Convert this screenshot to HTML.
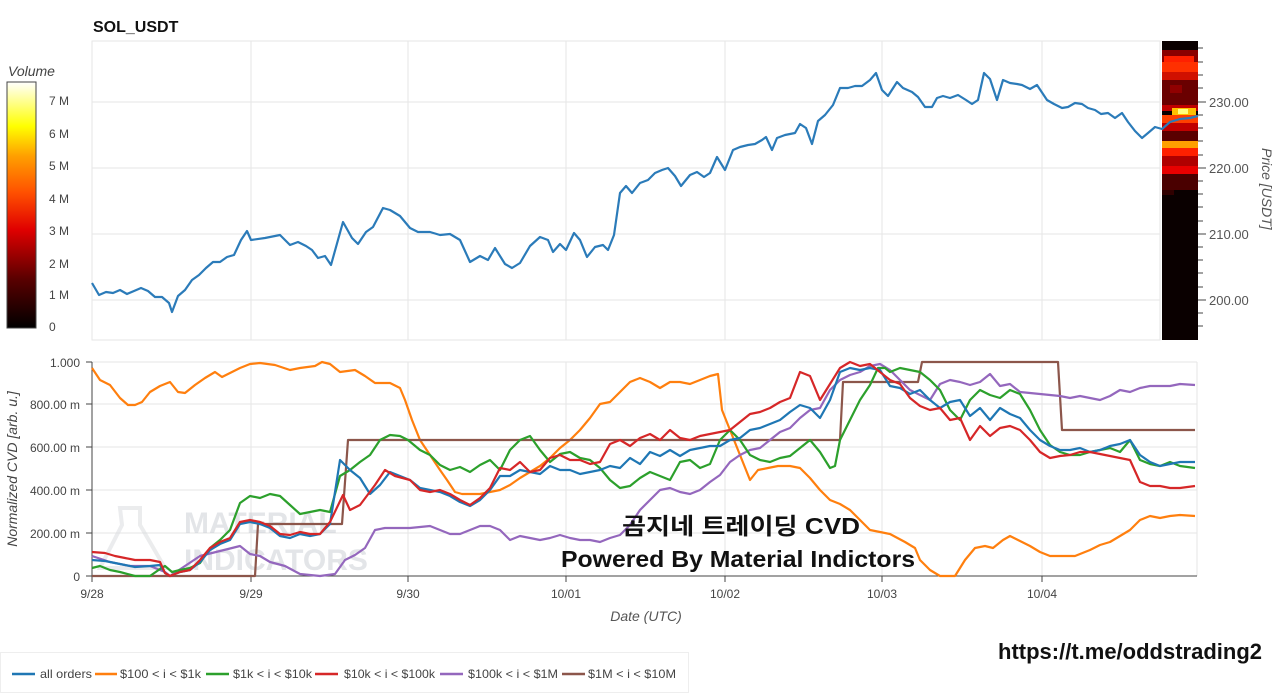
<!DOCTYPE html>
<html><head><meta charset="utf-8"><style>
html,body{margin:0;padding:0;background:#fff;}
svg text{font-family:"Liberation Sans","Noto Sans CJK KR",sans-serif;}
</style></head><body>
<svg width="1280" height="693" viewBox="0 0 1280 693" xmlns="http://www.w3.org/2000/svg">
<defs>
<linearGradient id="cb" x1="0" y1="1" x2="0" y2="0">
<stop offset="0" stop-color="#000"/>
<stop offset="0.2" stop-color="#5a0000"/>
<stop offset="0.4" stop-color="#e00000"/>
<stop offset="0.55" stop-color="#ff5000"/>
<stop offset="0.7" stop-color="#ffa000"/>
<stop offset="0.82" stop-color="#ffff00"/>
<stop offset="1" stop-color="#ffffff"/>
</linearGradient>
</defs>
<text x="93" y="32" font-size="16" font-weight="bold" fill="#111">SOL_USDT</text>
<text x="8" y="76" font-size="14" font-style="italic" fill="#444">Volume</text>
<rect x="7" y="82" width="29" height="246" fill="url(#cb)" stroke="#444" stroke-width="1"/>
<g font-size="12" fill="#444">
<text x="49" y="105">7 M</text><text x="49" y="138">6 M</text><text x="49" y="170">5 M</text>
<text x="49" y="203">4 M</text><text x="49" y="235">3 M</text><text x="49" y="268">2 M</text>
<text x="49" y="299">1 M</text><text x="49" y="331">0</text>
</g>
<rect x="92" y="41" width="1068" height="299" fill="none" stroke="#e6e6e6"/>
<g stroke="#e6e6e6" stroke-width="1">
<line x1="92" y1="102" x2="1160" y2="102"/><line x1="92" y1="168" x2="1160" y2="168"/>
<line x1="92" y1="234" x2="1160" y2="234"/><line x1="92" y1="300" x2="1160" y2="300"/>
<line x1="251" y1="41" x2="251" y2="340"/><line x1="408" y1="41" x2="408" y2="340"/>
<line x1="566" y1="41" x2="566" y2="340"/><line x1="725" y1="41" x2="725" y2="340"/>
<line x1="882" y1="41" x2="882" y2="340"/><line x1="1042" y1="41" x2="1042" y2="340"/>
</g>
<rect x="1162" y="41" width="36" height="299" fill="#0a0000"/>
<rect x="1162" y="50" width="36" height="12" fill="#8a0000"/>
<rect x="1164" y="56" width="30" height="8" fill="#ff2000"/>
<rect x="1162" y="62" width="36" height="10" fill="#ff3000"/>
<rect x="1162" y="72" width="36" height="8" fill="#d01000"/>
<rect x="1162" y="80" width="36" height="25" fill="#6a0000"/>
<rect x="1170" y="85" width="12" height="8" fill="#900000"/>
<rect x="1162" y="105" width="36" height="6" fill="#c00000"/>
<rect x="1172" y="108" width="24" height="8" fill="#ffc000"/>
<rect x="1178" y="109" width="10" height="5" fill="#ffff80"/>
<rect x="1162" y="115" width="36" height="8" fill="#ff4000"/>
<rect x="1162" y="123" width="36" height="8" fill="#c00000"/>
<rect x="1162" y="131" width="36" height="10" fill="#5a0000"/>
<rect x="1162" y="141" width="36" height="7" fill="#ffa000"/>
<rect x="1162" y="148" width="36" height="8" fill="#ff2000"/>
<rect x="1162" y="156" width="36" height="10" fill="#b00000"/>
<rect x="1162" y="166" width="36" height="8" fill="#e80000"/>
<rect x="1162" y="174" width="36" height="16" fill="#4a0000"/>
<rect x="1162" y="190" width="12" height="5" fill="#300000"/>
<g stroke="#444" stroke-width="1">
<line x1="1198" y1="48" x2="1203" y2="48"/><line x1="1198" y1="62" x2="1203" y2="62"/><line x1="1198" y1="75" x2="1203" y2="75"/><line x1="1198" y1="88" x2="1203" y2="88"/>
<line x1="1198" y1="102" x2="1206" y2="102"/><line x1="1198" y1="115" x2="1203" y2="115"/><line x1="1198" y1="128" x2="1203" y2="128"/><line x1="1198" y1="141" x2="1203" y2="141"/><line x1="1198" y1="155" x2="1203" y2="155"/>
<line x1="1198" y1="168" x2="1206" y2="168"/><line x1="1198" y1="181" x2="1203" y2="181"/><line x1="1198" y1="194" x2="1203" y2="194"/><line x1="1198" y1="207" x2="1203" y2="207"/><line x1="1198" y1="221" x2="1203" y2="221"/>
<line x1="1198" y1="234" x2="1206" y2="234"/><line x1="1198" y1="247" x2="1203" y2="247"/><line x1="1198" y1="260" x2="1203" y2="260"/><line x1="1198" y1="273" x2="1203" y2="273"/><line x1="1198" y1="287" x2="1203" y2="287"/>
<line x1="1198" y1="300" x2="1206" y2="300"/><line x1="1198" y1="313" x2="1203" y2="313"/><line x1="1198" y1="326" x2="1203" y2="326"/>
</g>
<g font-size="13" fill="#555">
<text x="1209" y="107">230.00</text><text x="1209" y="173">220.00</text>
<text x="1209" y="239">210.00</text><text x="1209" y="305">200.00</text>
</g>
<text transform="translate(1262,148) rotate(90)" font-size="14" font-style="italic" fill="#555">Price [USDT]</text>
<polyline fill="none" stroke="#2b7bb9" stroke-width="2.2" stroke-linejoin="round" points="92,283 99,295 106,292 113,293 120,290 127,294 134,291 141,288 148,291 155,297 162,297 169,303 172,312 178,296 185,290 192,280 199,275 206,268 213,262 220,262 227,257 234,255 241,240 247,231 251,240 265,238 280,235 290,245 298,242 306,246 312,250 318,258 325,256 331,265 343,222 352,238 358,244 366,232 373,227 383,208 390,210 400,216 410,228 418,232 430,232 440,235 450,234 460,240 470,262 480,256 488,260 495,248 505,264 512,268 520,263 530,246 540,237 548,240 553,252 560,244 566,250 574,233 580,240 587,257 595,247 603,245 608,250 614,235 620,193 626,186 632,193 640,183 648,180 655,173 662,170 668,168 675,176 681,186 690,175 697,172 704,177 710,173 717,157 725,170 733,150 740,147 748,145 755,144 762,140 766,137 772,150 777,138 785,135 795,133 800,124 806,128 812,144 818,121 825,115 833,105 840,88 848,88 855,86 862,86 870,80 876,73 882,90 888,96 897,82 903,88 912,92 918,97 925,107 932,107 937,98 943,96 950,98 958,95 966,100 972,104 978,100 984,73 990,79 997,100 1003,80 1010,83 1017,84 1022,85 1030,89 1037,85 1047,100 1054,104 1062,108 1068,107 1075,103 1082,104 1088,108 1095,110 1101,114 1108,113 1115,118 1122,113 1128,122 1135,131 1142,138 1148,133 1155,127 1162,129 1170,122 1180,119 1190,118 1198,116"/>
<g stroke="#e6e6e6" stroke-width="1">
<line x1="92" y1="362" x2="1197" y2="362"/><line x1="92" y1="404" x2="1197" y2="404"/><line x1="92" y1="447" x2="1197" y2="447"/><line x1="92" y1="490" x2="1197" y2="490"/><line x1="92" y1="533" x2="1197" y2="533"/>
<line x1="251" y1="362" x2="251" y2="576"/><line x1="408" y1="362" x2="408" y2="576"/><line x1="566" y1="362" x2="566" y2="576"/><line x1="725" y1="362" x2="725" y2="576"/><line x1="882" y1="362" x2="882" y2="576"/><line x1="1042" y1="362" x2="1042" y2="576"/><line x1="1197" y1="362" x2="1197" y2="576"/>
</g>
<g opacity="0.5">
<path d="M120,508 L140,508 L140,525 L165,568 L100,568 L122,525 Z" fill="none" stroke="#d8dadd" stroke-width="4"/>
<text x="184" y="533" font-size="30" font-weight="bold" fill="#c8ccd2">MATERIAL</text>
<text x="184" y="570" font-size="30" font-weight="bold" fill="#c8ccd2">INDICATORS</text>
</g>
<line x1="92" y1="362" x2="92" y2="576" stroke="#444"/>
<line x1="92" y1="576" x2="1197" y2="576" stroke="#444"/>
<g stroke="#444">
<line x1="86" y1="362" x2="92" y2="362"/><line x1="86" y1="404" x2="92" y2="404"/><line x1="86" y1="447" x2="92" y2="447"/><line x1="86" y1="490" x2="92" y2="490"/><line x1="86" y1="533" x2="92" y2="533"/><line x1="86" y1="576" x2="92" y2="576"/>
<line x1="92" y1="576" x2="92" y2="582"/><line x1="251" y1="576" x2="251" y2="582"/><line x1="408" y1="576" x2="408" y2="582"/><line x1="566" y1="576" x2="566" y2="582"/><line x1="725" y1="576" x2="725" y2="582"/><line x1="882" y1="576" x2="882" y2="582"/><line x1="1042" y1="576" x2="1042" y2="582"/>
</g>
<g font-size="12" fill="#444" text-anchor="end">
<text x="80" y="367">1.000</text><text x="80" y="409">800.00 m</text><text x="80" y="452">600.00 m</text><text x="80" y="495">400.00 m</text><text x="80" y="538">200.00 m</text><text x="80" y="581">0</text>
</g>
<g font-size="12" fill="#444" text-anchor="middle">
<text x="92" y="598">9/28</text><text x="251" y="598">9/29</text><text x="408" y="598">9/30</text><text x="566" y="598">10/01</text><text x="725" y="598">10/02</text><text x="882" y="598">10/03</text><text x="1042" y="598">10/04</text>
</g>
<text x="646" y="621" font-size="14" font-style="italic" fill="#555" text-anchor="middle">Date (UTC)</text>
<text transform="translate(17,469) rotate(-90)" font-size="14" font-style="italic" fill="#444" text-anchor="middle">Normalized CVD [arb. u.]</text>
<g fill="none" stroke-width="2.2" stroke-linejoin="round">
<polyline stroke="#ff7f0e" points="92,368 100,380 110,385 120,398 128,405 135,405 142,402 150,392 160,386 170,382 178,392 185,393 195,385 205,378 215,372 222,377 230,373 240,368 250,364 260,363 275,365 290,370 300,368 315,366 322,362 330,364 340,372 355,370 365,376 375,383 390,383 400,388 405,400 412,420 420,440 430,455 440,470 447,480 455,492 462,494 470,494 480,494 490,492 500,490 510,485 520,478 530,472 540,466 550,458 560,448 570,440 580,430 590,418 600,404 610,402 620,392 630,382 640,378 650,382 660,388 670,382 680,382 690,384 700,380 710,376 718,374 722,410 730,430 740,455 750,480 758,470 768,468 778,466 790,466 800,468 810,478 820,490 830,500 840,504 850,510 860,520 870,530 880,532 890,534 905,542 915,548 920,560 930,570 940,576 955,576 965,560 975,548 985,546 993,548 1003,540 1010,536 1018,540 1030,546 1040,552 1050,556 1060,556 1075,556 1090,550 1100,545 1110,542 1120,536 1130,530 1140,520 1150,516 1160,518 1170,516 1180,515 1195,516"/>
<polyline stroke="#8c564b" points="92,576 255,576 258,524 342,524 348,440 840,440 843,382 918,382 922,362 1058,362 1062,430 1195,430"/>
<polyline stroke="#9467bd" points="92,556 110,562 130,566 150,566 165,572 170,576 185,566 200,556 220,551 240,546 250,554 260,556 270,562 285,566 300,574 320,576 335,574 345,560 355,555 365,548 375,530 385,528 395,528 410,528 430,526 440,530 450,534 460,534 470,530 480,526 490,526 500,530 510,540 520,536 530,538 540,540 550,538 560,535 570,538 580,540 590,540 600,542 610,538 620,535 630,525 640,510 650,500 660,490 670,488 680,492 690,494 700,490 710,482 720,475 730,462 740,455 750,450 760,448 770,440 780,432 790,428 800,418 810,410 820,408 830,390 840,380 850,375 860,372 870,366 880,364 890,370 900,380 910,390 920,395 930,400 940,384 950,380 960,382 970,385 980,382 990,374 1000,386 1010,384 1020,392 1030,393 1040,394 1050,395 1060,396 1070,398 1080,396 1090,398 1100,400 1110,396 1120,390 1130,392 1140,388 1150,386 1160,386 1170,386 1180,384 1195,385"/>
<polyline stroke="#2ca02c" points="92,568 100,566 110,570 120,572 135,576 150,576 160,569 165,566 172,572 180,570 190,568 200,563 210,548 220,540 230,530 240,503 250,496 260,498 270,494 280,496 290,505 300,514 310,512 320,510 330,512 340,476 350,470 360,462 370,455 380,440 390,435 400,436 408,440 420,450 430,455 440,465 450,470 460,467 470,472 480,465 490,460 500,470 510,450 520,440 530,436 540,450 550,462 560,454 570,452 580,458 590,460 600,468 610,480 620,488 630,486 640,478 650,472 660,476 670,480 680,462 690,460 700,468 710,464 720,440 730,430 740,440 750,455 760,460 770,462 780,458 790,456 800,448 810,440 820,452 830,468 835,466 840,440 850,420 860,400 870,385 878,368 885,368 890,372 900,368 910,370 920,372 930,380 940,390 950,410 960,420 970,400 980,390 990,395 1000,398 1010,390 1020,394 1030,410 1040,430 1050,445 1060,452 1070,455 1080,455 1090,452 1100,450 1110,448 1120,452 1130,440 1140,460 1150,464 1160,466 1170,462 1180,466 1195,468"/>
<polyline stroke="#1f77b4" points="92,560 105,561 115,563 125,565 135,567 150,566 160,565 165,573 170,576 180,572 190,570 200,562 210,550 220,544 230,540 240,524 250,522 260,524 270,528 280,536 290,538 300,534 310,536 320,534 330,524 340,460 350,470 360,478 370,494 380,485 390,472 400,476 410,480 420,488 430,490 440,492 450,496 460,502 470,506 480,500 490,490 500,476 510,476 520,470 530,472 540,474 550,466 560,470 570,470 580,474 590,472 600,470 610,466 620,468 630,458 640,464 650,452 660,456 670,450 680,456 690,450 700,448 710,446 720,446 730,440 740,438 750,430 760,428 770,424 780,420 790,412 800,405 810,408 820,418 830,400 840,372 850,368 860,370 870,368 880,370 890,386 900,388 910,394 920,390 930,400 940,408 950,402 960,400 970,416 980,408 990,420 1000,408 1010,414 1020,418 1030,430 1040,440 1050,446 1060,450 1070,450 1080,448 1090,452 1100,450 1110,446 1120,444 1130,440 1140,455 1150,462 1160,466 1170,464 1180,462 1195,462"/>
<polyline stroke="#d62728" points="92,552 105,553 115,556 125,558 135,560 150,560 160,562 165,573 170,576 180,572 190,570 200,560 210,548 220,542 230,538 240,522 250,520 260,522 270,526 280,534 290,535 300,532 310,534 320,534 330,522 343,495 350,510 360,505 375,485 385,470 395,476 410,480 420,490 430,492 440,490 450,494 460,500 470,505 480,498 490,488 500,468 510,470 520,462 530,472 540,470 550,458 560,455 570,460 580,460 590,464 600,462 610,444 620,440 630,446 640,438 650,434 660,440 670,430 680,438 690,440 700,436 710,434 720,432 730,430 740,422 750,414 760,412 770,408 780,402 790,398 800,372 810,376 820,400 830,384 840,368 850,362 860,366 870,364 880,372 890,380 900,384 910,398 920,406 930,410 940,408 950,420 960,418 970,440 980,426 990,436 1000,428 1010,426 1020,430 1030,440 1040,452 1050,458 1060,456 1070,455 1080,452 1090,452 1100,454 1110,456 1120,458 1130,460 1140,482 1150,486 1160,486 1170,488 1180,488 1195,486"/>
</g>
<text x="622" y="534" font-size="23" font-weight="bold" fill="#111" textLength="238" lengthAdjust="spacingAndGlyphs">곰지네 트레이딩 CVD</text>
<text x="561" y="567" font-size="23" font-weight="bold" fill="#111" textLength="354" lengthAdjust="spacingAndGlyphs">Powered By Material Indictors</text>
<text x="1262" y="659" font-size="22" font-weight="bold" fill="#111" text-anchor="end">https://t.me/oddstrading2</text>
<rect x="0.5" y="652.5" width="688" height="40" fill="#fff" stroke="#eee"/>
<g stroke-width="2.5">
<line x1="12" y1="674" x2="35" y2="674" stroke="#1f77b4"/>
<line x1="95" y1="674" x2="117" y2="674" stroke="#ff7f0e"/>
<line x1="206" y1="674" x2="229" y2="674" stroke="#2ca02c"/>
<line x1="315" y1="674" x2="338" y2="674" stroke="#d62728"/>
<line x1="440" y1="674" x2="463" y2="674" stroke="#9467bd"/>
<line x1="562" y1="674" x2="585" y2="674" stroke="#8c564b"/>
</g>
<g font-size="12" fill="#444">
<text x="40" y="678" textLength="52" lengthAdjust="spacingAndGlyphs">all orders</text>
<text x="120" y="678" textLength="81" lengthAdjust="spacingAndGlyphs">$100 &lt; i &lt; $1k</text>
<text x="233" y="678" textLength="79" lengthAdjust="spacingAndGlyphs">$1k &lt; i &lt; $10k</text>
<text x="344" y="678" textLength="91" lengthAdjust="spacingAndGlyphs">$10k &lt; i &lt; $100k</text>
<text x="468" y="678" textLength="90" lengthAdjust="spacingAndGlyphs">$100k &lt; i &lt; $1M</text>
<text x="588" y="678" textLength="88" lengthAdjust="spacingAndGlyphs">$1M &lt; i &lt; $10M</text>
</g>
</svg>
</body></html>
